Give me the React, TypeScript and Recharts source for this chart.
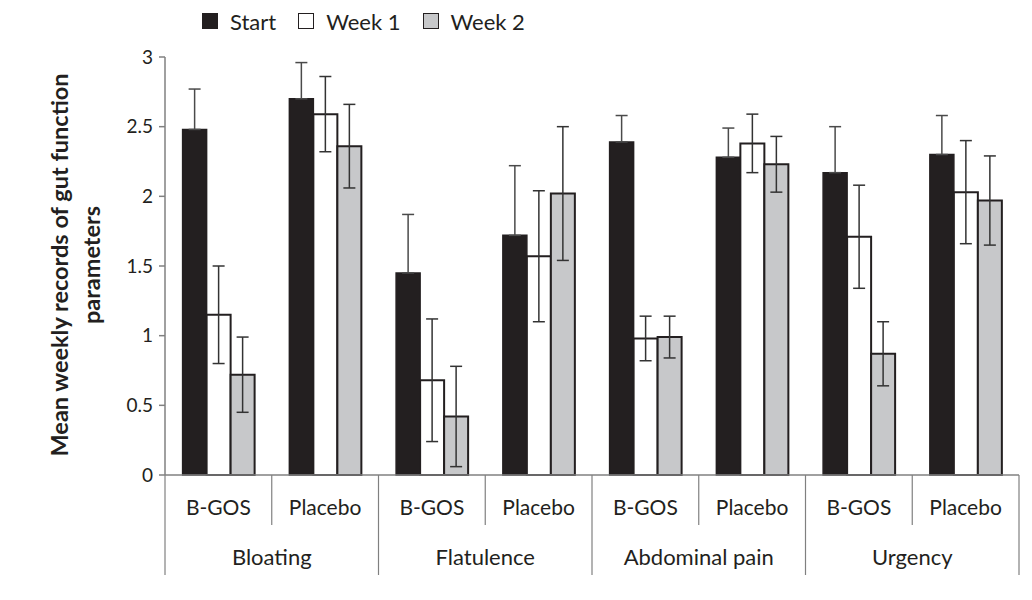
import { BarChart, Bar, XAxis, YAxis, ErrorBar } from 'recharts';

const categories = ['Bloating', 'Flatulence', 'Abdominal pain', 'Urgency'];
const groups = ['B-GOS', 'Placebo'];
const seriesNames = ['Start', 'Week 1', 'Week 2'];

// order: Bloating B-GOS, Bloating Placebo, Flatulence B-GOS, ...
const startMean = [2.48, 2.7, 1.45, 1.72, 2.39, 2.28, 2.17, 2.3];
const startErr = [0.29, 0.26, 0.42, 0.5, 0.19, 0.21, 0.33, 0.28];
const week1Mean = [1.15, 2.59, 0.68, 1.57, 0.98, 2.38, 1.71, 2.03];
const week1Err = [0.35, 0.27, 0.44, 0.47, 0.16, 0.21, 0.37, 0.37];
const week2Mean = [0.72, 2.36, 0.42, 2.02, 0.99, 2.23, 0.87, 1.97];
const week2Err = [0.27, 0.3, 0.36, 0.48, 0.15, 0.2, 0.23, 0.32];
const yTicks = [0, 0.5, 1, 1.5, 2, 2.5, 3];

const data = startMean.map((v, i) => ({
  cat: categories[Math.floor(i / 2)],
  group: groups[i % 2],
  start: v,
  // lower half hidden behind the black bar, so only the upper whisker
  startErr: [0, startErr[i]],
  week1: week1Mean[i],
  week1Err: week1Err[i],
  week2: week2Mean[i],
  week2Err: week2Err[i],
}));

const W = 1024;
const H = 592;
const Y_AXIS_W = 157;
const M = { top: 49, right: 13, bottom: 5, left: 0 };
const PLOT_W = W - M.left - M.right - Y_AXIS_W;
const FONT = 'Lato, "Open Sans", sans-serif';
const INK = '#231f20';
const AXIS = '#808080';
const colors = [INK, '#ffffff', '#c7c8ca'];

const GroupTick = (props: any) => {
  const { x, y, payload } = props;
  const i = payload.index;
  const band = PLOT_W / data.length;
  const odd = i % 2 === 1;
  return (
    <g>
      <text
        x={x}
        y={y + 33}
        dy="0.35em"
        textAnchor="middle"
        fontSize={21}
        fontFamily={FONT}
        fill={INK}
      >
        {payload.value}
      </text>
      {i === 0 && (
        <line x1={x - band / 2} x2={x - band / 2} y1={y} y2={y + 100} stroke={AXIS} strokeWidth={1.2} />
      )}
      <line
        x1={x + band / 2}
        x2={x + band / 2}
        y1={y}
        y2={y + (odd ? 100 : 50)}
        stroke={AXIS}
        strokeWidth={1.2}
      />
      {odd && (
        <text
          x={x - band / 2}
          y={y + 82}
          dy="0.35em"
          textAnchor="middle"
          fontSize={22}
          fontFamily={FONT}
          fill={INK}
        >
          {data[i].cat}
        </text>
      )}
    </g>
  );
};

const YLabel = () => (
  <g>
    <text
      transform="translate(52,257) rotate(-90)"
      textAnchor="middle"
      dy="0.35em"
      fontSize={23.5}
      fontWeight="bold"
      fontFamily={FONT}
      fill={INK}
    >
      Mean weekly records of gut function
    </text>
    <text
      transform="translate(84,257) rotate(-90)"
      textAnchor="middle"
      dy="0.35em"
      fontSize={23.5}
      fontWeight="bold"
      fontFamily={FONT}
      fill={INK}
    >
      parameters
    </text>
  </g>
);

export default function App() {
  return (
    <div style={{ position: 'relative', width: W, height: H }}>
      <div
        style={{
          position: 'absolute',
          left: 194,
          top: 0,
          display: 'flex',
          alignItems: 'center',
          fontFamily: FONT,
          fontSize: 22,
          color: INK,
          height: 26,
        }}
      >
        {seriesNames.map((name, i) => (
          <div key={name} style={{ display: 'flex', alignItems: 'center', marginRight: 22 }}>
            <span
              style={{
                width: 14,
                height: 14,
                background: colors[i],
                border: `1.5px solid ${INK}`,
                marginRight: 12,
                display: 'inline-block',
              }}
            />
            {name}
          </div>
        ))}
      </div>
      <BarChart width={W} height={H} data={data} margin={M} barCategoryGap="16.5%" barGap={0}>
        <XAxis
          dataKey="group"
          height={120}
          axisLine={{ stroke: AXIS, strokeWidth: 1.5 }}
          tickLine={false}
          tickSize={0}
          tickMargin={0}
          interval={0}
          tick={<GroupTick />}
        />
        <YAxis
          width={Y_AXIS_W}
          domain={[0, 3]}
          ticks={yTicks}
          interval={0}
          axisLine={{ stroke: AXIS, strokeWidth: 1.5 }}
          tickLine={{ stroke: AXIS, strokeWidth: 1.5 }}
          tickSize={6}
          tickMargin={6}
          tick={{ fontSize: 19, fontFamily: FONT, fill: INK }}
          label={{ content: () => <YLabel /> }}
        />
        <Bar dataKey="start" name={seriesNames[0]} fill={colors[0]} stroke={INK} strokeWidth={1.5} isAnimationActive={false}>
          <ErrorBar dataKey="startErr" width={6} stroke="#4a4a4a" strokeWidth={1.5} />
        </Bar>
        <Bar dataKey="week1" name={seriesNames[1]} fill={colors[1]} stroke={INK} strokeWidth={2} isAnimationActive={false}>
          <ErrorBar dataKey="week1Err" width={6} stroke="#333" strokeWidth={1.5} />
        </Bar>
        <Bar dataKey="week2" name={seriesNames[2]} fill={colors[2]} stroke={INK} strokeWidth={2} isAnimationActive={false}>
          <ErrorBar dataKey="week2Err" width={6} stroke="#333" strokeWidth={1.5} />
        </Bar>
      </BarChart>
    </div>
  );
}
